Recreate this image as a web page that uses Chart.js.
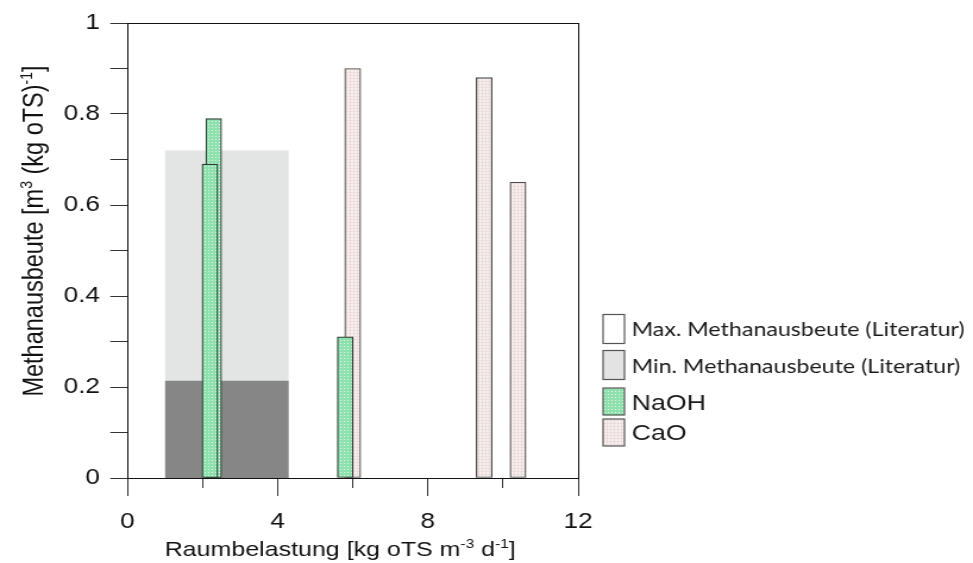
<!DOCTYPE html>
<html>
<head>
<meta charset="utf-8">
<script src="https://cdn.jsdelivr.net/npm/chart.js@4.4.1/dist/chart.umd.min.js"></script>
<style>
  html, body { margin: 0; padding: 0; background: #fff; overflow: hidden; }
  /* the original figure is stretched horizontally, so the canvas is too */
  #wrap { width: 818px; height: 563px; transform: scaleX(1.18949); transform-origin: 0 0; }
</style>
</head>
<body>
<div id="wrap"><canvas id="chart" width="818" height="563"></canvas></div>
<script>
// Data
const litX = [1.0, 4.3];
const litMax = [0.72, 0.72];
const litMin = [0.214, 0.214];
const naohX = [2.3, 2.2, 5.8];
const naohY = [0.79, 0.69, 0.31];
const caoX = [6.0, 9.5, 10.4];
const caoY = [0.90, 0.88, 0.65];
const xTickLabels = ['0', '4', '8', '12'];
const yTickLabels = ['0', '0.2', '0.4', '0.6', '0.8', '1'];
const legendLabels = ['Max. Methanausbeute (Literatur)', 'Min. Methanausbeute (Literatur)', 'NaOH', 'CaO'];
// axis titles as [text, superscript?] runs
const xTitle = [['Raumbelastung [kg oTS m', false], ['-3', true], [' d', false], ['-1', true], [']', false]];
const yTitle = [['Methanausbeute [m', false], ['3', true], [' (kg oTS)', false], ['-1', true], [']', false]];

const toPoints = (xs, ys) => xs.map((x, i) => ({ x: x, y: ys[i] }));

// Fill patterns
function makePattern(bg, fg, kind) {
  const c = document.createElement('canvas');
  c.width = 3; c.height = 3;
  const g = c.getContext('2d');
  g.fillStyle = bg;
  g.fillRect(0, 0, 3, 3);
  g.fillStyle = fg;
  if (kind === 'dots') {
    g.fillRect(1, 1, 1, 1);
  } else {
    g.fillRect(0, 0, 3, 1);
    g.fillRect(0, 0, 1, 3);
  }
  return g.createPattern(c, 'repeat');
}
const ctx = document.getElementById('chart').getContext('2d');
const naohFill = makePattern('#8ee0ad', '#dff6e8', 'dots');
const caoFill = makePattern('#f8f1f1', '#ecdcdc', 'grid');

// text with superscripts, centered on (0,0) of the current transform
function drawRuns(c, runs, size) {
  const main = size + 'px "Liberation Sans", Arial';
  const sup = Math.round(size * 0.6) + 'px "Liberation Sans", Arial';
  let total = 0;
  runs.forEach(r => { c.font = r[1] ? sup : main; total += c.measureText(r[0]).width; });
  let x = -total / 2;
  runs.forEach(r => {
    c.font = r[1] ? sup : main;
    c.fillText(r[0], x, r[1] ? -size * 0.38 : 0);
    x += c.measureText(r[0]).width;
  });
}

// Frame, axis titles and legend drawn after the chart
const extras = {
  id: 'extras',
  afterDraw(chart) {
    const c = chart.ctx;
    const a = chart.chartArea;
    c.save();
    c.strokeStyle = '#111';
    c.lineWidth = 1;
    c.strokeRect(a.left + 0.5, a.top + 0.5, a.right - a.left, a.bottom - a.top);

    c.fillStyle = '#111';
    c.textAlign = 'left';
    c.textBaseline = 'alphabetic';
    c.save();
    c.translate(286, 556);
    drawRuns(c, xTitle, 21);
    c.restore();
    c.save();
    c.translate(35.5, 231);
    c.rotate(-Math.PI / 2);
    drawRuns(c, yTitle, 23.5);
    c.restore();

    const fills = ['#ffffff', '#e3e3e3', naohFill, caoFill];
    const boxes = [[314, 29], [350, 29], [387.5, 27], [418.5, 27]];
    const base = [336, 373, 409.5, 439.5];
    const fonts = ['19.5px Lato', '19.5px Lato', '22.5px "Liberation Sans Narrow", "Liberation Sans"', '22.5px "Liberation Sans Narrow", "Liberation Sans"'];
    legendLabels.forEach((lab, i) => {
      c.fillStyle = fills[i];
      c.fillRect(507, boxes[i][0] + 0.5, 18, boxes[i][1]);
      c.strokeStyle = '#555';
      c.lineWidth = 1.2;
      c.strokeRect(507, boxes[i][0] + 0.5, 18, boxes[i][1]);
      c.fillStyle = '#1a1a1a';
      c.font = fonts[i];
      c.fillText(lab, 531, base[i]);
    });
    c.restore();
  }
};

new Chart(ctx, {
  type: 'bar',
  data: {
    datasets: [
      {
        label: 'NaOH',
        data: toPoints(naohX, naohY),
        backgroundColor: naohFill,
        borderColor: '#2f3a33',
        borderWidth: 1.2,
        borderSkipped: false,
        barThickness: 13.2,
        grouped: false
      },
      {
        label: 'CaO',
        data: toPoints(caoX, caoY),
        backgroundColor: caoFill,
        borderColor: '#4a4a4a',
        borderWidth: 1.2,
        borderSkipped: false,
        barThickness: 13.4,
        grouped: false
      },
      {
        type: 'line',
        label: 'Min. Methanausbeute (Literatur)',
        data: toPoints(litX, litMin),
        backgroundColor: '#868686',
        borderWidth: 0,
        pointRadius: 0,
        fill: 'origin'
      },
      {
        type: 'line',
        label: 'Max. Methanausbeute (Literatur)',
        data: toPoints(litX, litMax),
        backgroundColor: '#e3e4e4',
        borderWidth: 0,
        pointRadius: 0,
        fill: 'origin'
      }
    ]
  },
  options: {
    responsive: false,
    animation: false,
    layout: { padding: { top: 23, right: 332, left: 0, bottom: 0 } },
    plugins: {
      legend: { display: false },
      tooltip: { enabled: false }
    },
    scales: {
      x: {
        type: 'linear',
        min: 0,
        max: 12,
        offset: false,
        border: { color: '#111', width: 1 },
        grid: {
          offset: false,
          drawOnChartArea: false,
          tickLength: 18,
          tickColor: '#333',
          tickBorderDash: (c) => (c.tick && c.tick.value % 4 !== 0 ? [9, 40] : [])
        },
        ticks: {
          stepSize: 2,
          autoSkip: false,
          maxRotation: 0,
          padding: 13,
          color: '#111',
          font: { family: '"Liberation Sans", Arial', size: 22 },
          callback: (v) => xTickLabels.includes(String(v)) ? String(v) : ''
        },
        afterFit: (s) => { s.height = 85; }
      },
      y: {
        min: 0,
        max: 1,
        border: { color: '#111', width: 1 },
        grid: {
          drawOnChartArea: false,
          tickLength: 14.3,
          tickColor: '#333'
        },
        ticks: {
          stepSize: 0.1,
          autoSkip: false,
          padding: 8.7,
          color: '#111',
          font: { family: '"Liberation Sans", Arial', size: 22 },
          callback: (v) => {
            const s = String(Math.round(v * 10) / 10);
            return yTickLabels.includes(s) ? s : '';
          }
        },
        afterFit: (s) => { s.width = 107; }
      }
    }
  },
  plugins: [extras]
});
</script>
</body>
</html>
